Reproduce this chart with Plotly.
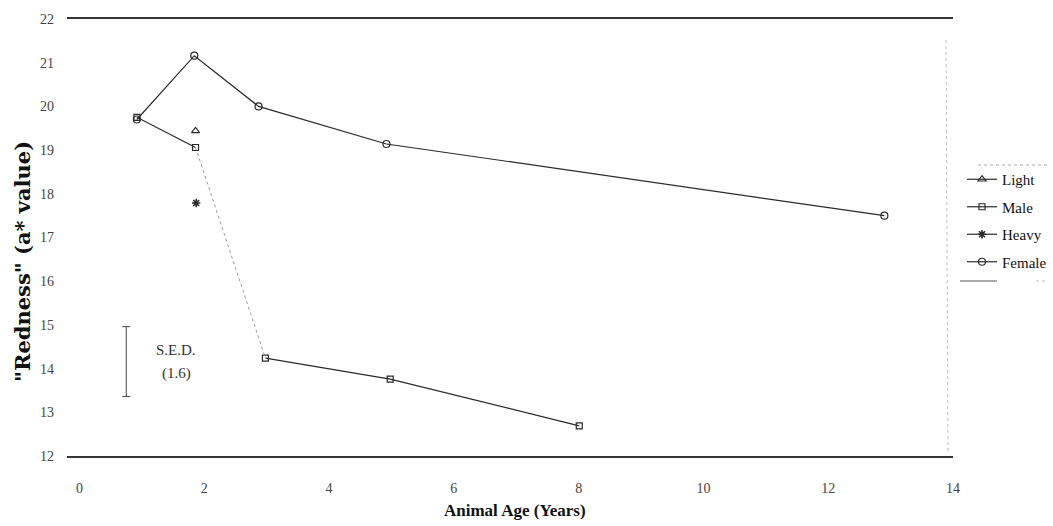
import plotly.graph_objects as go

# ---------------- data ----------------
light_x = [1.86]
light_y = [19.44]

male_x = [0.92, 1.86, 2.98, 4.98, 8.01]
male_y = [19.75, 19.06, 14.24, 13.76, 12.69]

heavy_x = [1.87]
heavy_y = [17.79]

female_x = [0.92, 1.84, 2.87, 4.92, 12.9]
female_y = [19.70, 21.16, 20.00, 19.14, 17.50]

sed_x = [0.75]
sed_center = [14.16]
sed_value = [1.6]
sed_text = ["S.E.D.", "(1.6)"]

x_ticks = [0, 2, 4, 6, 8, 10, 12, 14]
y_ticks = [12, 13, 14, 15, 16, 17, 18, 19, 20, 21, 22]

# ---------------- layout geometry ----------------
W, H = 1053, 526
L, R, T, B = 67, 100, 19, 70
PW, PH = W - L - R, H - T - B


def px2x(px):
    return (px - L) / PW


def px2y(py):
    return (H - B - py) / PH


SERIF = "Liberation Serif, Times New Roman, serif"
INK = "#2a2a2a"

fig = go.Figure()

# Light
fig.add_trace(go.Scatter(
    x=light_x, y=light_y, mode="lines+markers", name="Light",
    legendgroup="a",
    line=dict(color=INK, width=1.2),
    marker=dict(symbol="triangle-up-open", size=7, color=INK, line=dict(width=1.2)),
))

# Male (solid parts, with the faint fall between 2nd and 3rd point drawn separately)
male_solid_x = male_x[:2] + [None] + male_x[2:]
male_solid_y = male_y[:2] + [None] + male_y[2:]
fig.add_trace(go.Scatter(
    x=male_solid_x, y=male_solid_y, mode="lines+markers", name="Male",
    legendgroup="b", connectgaps=False,
    line=dict(color=INK, width=1.2),
    marker=dict(symbol="square-open", size=6, color=INK, line=dict(width=1.2)),
))
fig.add_trace(go.Scatter(
    x=male_x[1:3], y=male_y[1:3], mode="lines", showlegend=False,
    line=dict(color="#9a9a9a", width=1, dash="dot"), hoverinfo="skip",
))

# Heavy
fig.add_trace(go.Scatter(
    x=heavy_x, y=heavy_y, mode="lines+markers", name="Heavy",
    legendgroup="c",
    line=dict(color=INK, width=1.2),
    marker=dict(symbol="asterisk-open", size=7, color=INK, line=dict(width=1.6, color=INK)),
))

# Female
fig.add_trace(go.Scatter(
    x=female_x, y=female_y, mode="lines+markers", name="Female",
    legendgroup="d",
    line=dict(color=INK, width=1.2),
    marker=dict(symbol="circle-open", size=7, color=INK, line=dict(width=1.2)),
))

# S.E.D. bar
fig.add_trace(go.Scatter(
    x=sed_x, y=sed_center, mode="markers", showlegend=False, hoverinfo="skip",
    marker=dict(size=1, color="rgba(0,0,0,0)"),
    error_y=dict(type="data", array=[v / 2 for v in sed_value], symmetric=True,
                 color="#444", thickness=1, width=4),
))

annotations = [
    dict(x=1.55, y=14.42, xref="x", yref="y", text=sed_text[0], showarrow=False,
         font=dict(family=SERIF, size=15, color="#333")),
    dict(x=1.55, y=13.88, xref="x", yref="y", text=sed_text[1], showarrow=False,
         font=dict(family=SERIF, size=15, color="#333")),
    dict(x=px2x(22), y=px2y(262), xref="paper", yref="paper",
         text='<b>"Redness" (a* value)</b>', textangle=-90, showarrow=False,
         font=dict(family="DejaVu Serif, serif", size=21, color="#111"),
         xanchor="center", yanchor="middle"),
    dict(x=px2x(515), y=px2y(511), xref="paper", yref="paper",
         text="<b>Animal Age (Years)</b>", showarrow=False,
         font=dict(family=SERIF, size=17, color="#111"),
         xanchor="center", yanchor="middle"),
]

shapes = [
    # legend frame remnants
    dict(type="line", xref="paper", yref="paper",
         x0=px2x(978), x1=px2x(1047), y0=px2y(165), y1=px2y(165),
         line=dict(color="#aaaaaa", width=1, dash="dot")),
    dict(type="line", xref="paper", yref="paper",
         x0=px2x(960), x1=px2x(997), y0=px2y(281), y1=px2y(281),
         line=dict(color="#555555", width=1)),
    dict(type="line", xref="paper", yref="paper",
         x0=px2x(1036), x1=px2x(1047), y0=px2y(281), y1=px2y(281),
         line=dict(color="#bbbbbb", width=1, dash="dot")),
    # faint right frame
    dict(type="line", xref="paper", yref="paper",
         x0=px2x(946), x1=px2x(948), y0=px2y(40), y1=px2y(452),
         line=dict(color="#bdbdbd", width=1, dash="dot")),
]

fig.update_layout(
    width=W, height=H,
    margin=dict(l=L, r=R, t=T, b=B, autoexpand=False),
    paper_bgcolor="white", plot_bgcolor="white",
    font=dict(family=SERIF, color="#333"),
    showlegend=True,
    legend=dict(
        x=px2x(962), y=px2y(163), xanchor="left", yanchor="top",
        font=dict(family=SERIF, size=15, color="#111"),
        bgcolor="rgba(0,0,0,0)", borderwidth=0,
        traceorder="grouped", tracegroupgap=5,
        itemwidth=30,
    ),
    annotations=annotations,
    shapes=shapes,
)

fig.update_xaxes(
    range=[-0.2, 14], tickvals=x_ticks, ticktext=[str(v) for v in x_ticks],
    showgrid=False, zeroline=False, automargin=False,
    showline=True, mirror=True, linecolor="#333", linewidth=1.5,
    ticks="", ticklabelstandoff=18,
    tickfont=dict(family=SERIF, size=14, color="#444"),
)
fig.update_yaxes(
    range=[12, 22], tickvals=y_ticks, ticktext=[str(v) for v in y_ticks],
    showgrid=False, zeroline=False, showline=False, automargin=False,
    ticks="", ticklabelstandoff=12,
    tickfont=dict(family=SERIF, size=14, color="#444"),
)

fig.write_html(
    "out.html",
    config={"displayModeBar": False},
    post_script="document.body.style.margin='0';document.body.style.overflow='hidden';",
)
